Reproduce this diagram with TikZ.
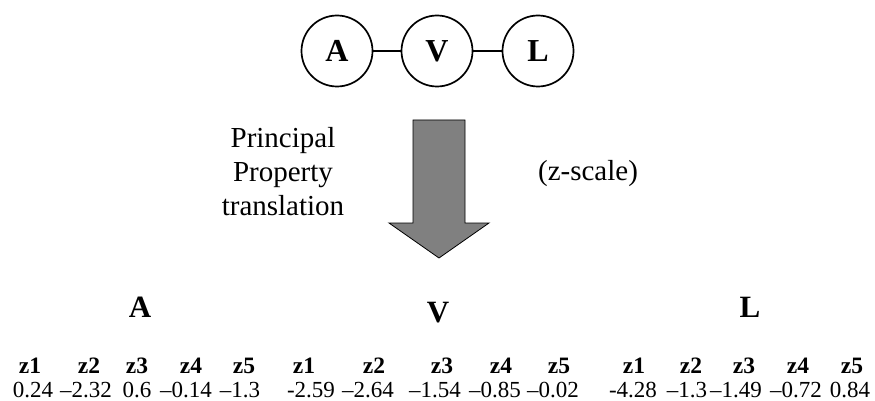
\documentclass[tikz,border=0pt]{standalone}
\usepackage{fontspec}
\setmainfont{Liberation Serif}
\usetikzlibrary{positioning}

\begin{document}
\begin{tikzpicture}[x=1pt, y=-1pt,
      res/.style={circle, draw, line width=1.7pt, minimum size=71pt, inner sep=0pt,
                  font=\fontsize{32}{36}\selectfont\bfseries},
      bond/.style={line width=1.7pt},
      midtext/.style={align=center, font=\fontsize{29}{34}\selectfont},
      grp/.style={anchor=base, font=\fontsize{31}{34}\selectfont\bfseries},
      zlab/.style={anchor=base, font=\fontsize{23.5}{26}\selectfont\bfseries},
      val/.style={anchor=base, font=\fontsize{23}{26}\selectfont}]
    \useasboundingbox (0,0) rectangle (875,401);
    % residues
    \node[res] (cA) at (337,51) {A};
    \node[res] (cV) at (437,51) {V};
    \node[res] (cL) at (538,51) {L};
    \draw[bond] (cA) -- (cV);
    \draw[bond] (cV) -- (cL);
    % translation arrow
    \draw[fill=black!50, line width=0.8pt] (413,120) -- (465,120) -- (465,223) -- (489,223)
      -- (439,258) -- (389,223) -- (413,223) -- cycle;
    \node[midtext] (pp) at (283,172) {Principal\\Property\\translation};
    \node[midtext, anchor=base] (zs) at (588,180) {(z-scale)};
    % groups
    \node[grp] (gA) at (140,317) {A};
    \node[grp] (gV) at (438,322) {V};
    \node[grp] (gL) at (750,317) {L};
    \foreach \x/\n [count=\i] in {30/1, 89/2, 137/3, 191/4, 244/5,
                                  304/1, 374/2, 442/3, 501/4, 559/5,
                                  634/1, 691/2, 744/3, 798/4, 852/5}
      \node[zlab] (z\i) at (\x,373) {z\n};
    \foreach \x/\v [count=\i] in {33/0.24, 86/{--2.32}, 137/0.6, 186/{--0.14}, 240/{--1.3},
                                  311/-2.59, 368/{--2.64}, 435/{--1.54}, 495/{--0.85}, 553/{--0.02},
                                  633/-4.28, 687/{--1.3}, 736/{--1.49}, 796/{--0.72}, 850/0.84}
      \node[val] (v\i) at (\x,397) {\v};
  \end{tikzpicture}
\end{document}
